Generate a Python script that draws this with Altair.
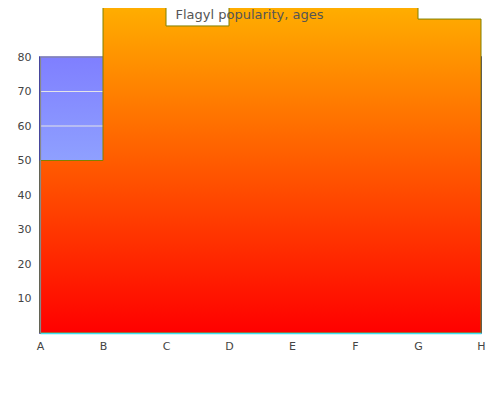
import altair as alt
import pandas as pd

categories = ["A", "B", "C", "D", "E", "F", "G", "H"]
orange_values = [50, 96, 89, 100, 100, 100, 91, 91]
blue_values = [80, 80, 80, 80, 80, 80, 80, 80]
grid_values = [10, 20, 30, 40, 50, 60, 70, 80]
y_ticks = [10, 20, 30, 40, 50, 60, 70, 80]
title_text = "Flagyl popularity, ages"

df = pd.DataFrame({"cat": categories, "orange": orange_values, "blue": blue_values})
grid_df = pd.DataFrame({"v": grid_values})

FONT = "DejaVu Sans"
yscale = alt.Scale(domain=[0, 80], nice=False, zero=True)
xscale = alt.Scale(type="point", padding=0, domain=categories)

x_axis = alt.Axis(
    title=None, labelAngle=0, ticks=False, tickSize=0, labelPadding=7,
    domainColor="#40e0f0", domainWidth=1.5, labelColor="#444", labelFontSize=11,
    labelFont=FONT, grid=False, zindex=1,
)
y_axis = alt.Axis(
    title=None, values=y_ticks, ticks=False, tickSize=0, labelPadding=9,
    domainColor="#888", domainWidth=1.2, labelColor="#444", labelFontSize=11,
    labelFont=FONT, grid=False, zindex=1,
)

blue_grad = alt.LinearGradient(
    gradient="linear", x1=0, y1=0, x2=0, y2=1,
    stops=[alt.GradientStop(color="#7f7fff", offset=0),
           alt.GradientStop(color="#a9d7ff", offset=1)],
)
orange_grad = alt.LinearGradient(
    gradient="linear", x1=0, y1=0, x2=0, y2=1,
    stops=[alt.GradientStop(color="#ffb800", offset=0),
           alt.GradientStop(color="#ff0000", offset=1)],
)

blue = alt.Chart(df).mark_area(
    interpolate="step-after", fill=blue_grad, stroke="#000080", strokeWidth=1.5
).encode(
    x=alt.X("cat:N", scale=xscale, axis=x_axis),
    y=alt.Y("blue:Q", scale=yscale, axis=y_axis),
)

grid = alt.Chart(grid_df).mark_rule(color="#e4e4e8", strokeWidth=1.2).encode(
    y=alt.Y("v:Q", scale=yscale, axis=y_axis)
)

orange = alt.Chart(df).mark_area(
    interpolate="step-after", fill=orange_grad, stroke="#808000", strokeWidth=1
).encode(
    x=alt.X("cat:N", scale=xscale, axis=x_axis),
    y=alt.Y("orange:Q", scale=yscale, axis=y_axis),
)

chart = alt.layer(blue, grid, orange).properties(
    width=441,
    height=276,
    autosize=alt.AutoSizeParams(type="none"),
    padding={"left": 32, "top": 49, "right": 11, "bottom": 59},
    title=alt.TitleParams(
        title_text, font=FONT, fontSize=13, fontWeight="normal", color="#555",
        anchor="middle", frame="group", dx=-11, offset=0, dy=46,
        baseline="alphabetic", zindex=1,
    ),
).configure_view(stroke=None)

chart.save("out.html", embed_options={"renderer": "svg", "actions": False})
